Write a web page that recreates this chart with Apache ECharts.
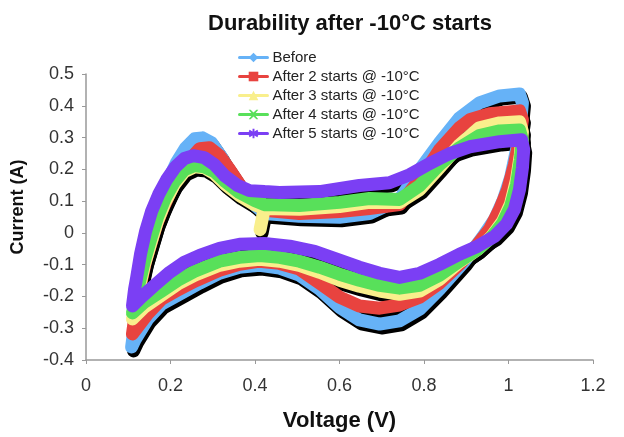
<!DOCTYPE html>
<html>
<head>
<meta charset="utf-8">
<script src="https://cdn.jsdelivr.net/npm/echarts@6/dist/echarts.min.js"></script>
<style>html,body{margin:0;padding:0;background:#fff}#c{width:624px;height:437px}</style>
</head>
<body>
<div id="c"></div>
<script>
// ---- data: [Voltage (V), Current (A)] ----
var seriesNames = ['Before', 'After 2 starts @ -10°C', 'After 3 starts @ -10°C', 'After 4 starts @ -10°C', 'After 5 starts @ -10°C'];
var seriesColors = ['#66b2f7', '#e8433f', '#f9ef8c', '#58e05a', '#7b3ff4'];

var before = [
 [0.422,0.061],[0.505,0.052],[0.600,0.049],[0.671,0.061],[0.742,0.105],[0.790,0.199],[0.837,0.284],[0.884,0.362],[0.931,0.409],[0.979,0.431],[1.026,0.437],
 [1.033,0.409],[1.028,0.340],[1.019,0.262],[1.005,0.174],[0.988,0.105],[0.967,0.042],[0.938,-0.014],[0.896,-0.089],[0.837,-0.177],[0.790,-0.240],[0.742,-0.277],[0.695,-0.287],[0.647,-0.274],[0.600,-0.234],[0.553,-0.177],[0.505,-0.133],[0.458,-0.111],[0.411,-0.102],[0.363,-0.108],[0.316,-0.127],[0.269,-0.158],[0.221,-0.193],[0.179,-0.224],[0.146,-0.271],[0.117,-0.334],[0.108,-0.359],
 [0.115,-0.287],[0.122,-0.208],[0.131,-0.130],[0.143,-0.052],[0.157,0.027],[0.174,0.096],[0.193,0.161],[0.214,0.221],[0.236,0.268],[0.257,0.296],[0.276,0.299],[0.297,0.284],[0.320,0.240],[0.347,0.177],[0.380,0.111],[0.422,0.061]
];
var after2 = [
 [0.422,0.071],[0.505,0.061],[0.600,0.067],[0.671,0.077],[0.742,0.089],[0.790,0.168],[0.837,0.262],[0.884,0.331],[0.908,0.356],[0.955,0.375],[1.026,0.384],
 [1.033,0.356],[1.026,0.293],[1.014,0.215],[0.998,0.136],[0.979,0.074],[0.955,0.011],[0.927,-0.036],[0.884,-0.099],[0.837,-0.158],[0.790,-0.202],[0.742,-0.227],[0.695,-0.237],[0.647,-0.230],[0.600,-0.202],[0.553,-0.158],[0.505,-0.114],[0.458,-0.096],[0.411,-0.089],[0.363,-0.099],[0.316,-0.118],[0.257,-0.152],[0.217,-0.180],[0.179,-0.208],[0.146,-0.255],[0.110,-0.318],
 [0.115,-0.271],[0.122,-0.208],[0.129,-0.161],[0.141,-0.089],[0.153,-0.036],[0.167,0.027],[0.181,0.074],[0.200,0.130],[0.221,0.183],[0.245,0.230],[0.269,0.265],[0.292,0.268],[0.316,0.243],[0.340,0.199],[0.368,0.143],[0.399,0.096],[0.422,0.071]
];
var after3 = [
 [0.412,0.010],[0.422,0.077],[0.505,0.074],[0.600,0.083],[0.671,0.096],[0.742,0.096],[0.790,0.136],[0.837,0.205],[0.884,0.277],[0.931,0.331],[0.979,0.346],[1.026,0.350],
 [1.033,0.318],[1.028,0.246],[1.019,0.168],[1.005,0.092],[0.986,0.036],[0.960,-0.011],[0.927,-0.052],[0.884,-0.092],[0.837,-0.146],[0.790,-0.183],[0.742,-0.193],[0.695,-0.183],[0.647,-0.168],[0.600,-0.149],[0.553,-0.124],[0.505,-0.102],[0.458,-0.089],[0.411,-0.083],[0.363,-0.089],[0.316,-0.102],[0.257,-0.133],[0.217,-0.161],[0.179,-0.196],[0.138,-0.234],[0.110,-0.271],
 [0.117,-0.224],[0.127,-0.168],[0.138,-0.102],[0.153,-0.033],[0.169,0.036],[0.188,0.099],[0.209,0.152],[0.233,0.193],[0.257,0.208],[0.280,0.205],[0.304,0.186],[0.330,0.152],[0.363,0.118],[0.399,0.089],[0.422,0.077]
];
var after4 = [
 [0.422,0.089],[0.505,0.086],[0.600,0.096],[0.671,0.108],[0.742,0.105],[0.790,0.149],[0.837,0.215],[0.884,0.268],[0.931,0.306],[0.979,0.321],[1.026,0.324],
 [1.033,0.293],[1.028,0.230],[1.019,0.152],[1.005,0.083],[0.986,0.030],[0.960,-0.014],[0.927,-0.052],[0.884,-0.089],[0.837,-0.133],[0.790,-0.165],[0.742,-0.174],[0.695,-0.165],[0.647,-0.149],[0.600,-0.130],[0.553,-0.108],[0.505,-0.089],[0.458,-0.077],[0.411,-0.071],[0.363,-0.077],[0.316,-0.089],[0.257,-0.121],[0.217,-0.149],[0.179,-0.183],[0.138,-0.218],[0.110,-0.252],
 [0.117,-0.208],[0.127,-0.152],[0.138,-0.089],[0.153,-0.020],[0.169,0.049],[0.188,0.111],[0.209,0.161],[0.233,0.199],[0.257,0.212],[0.280,0.208],[0.304,0.193],[0.330,0.161],[0.363,0.127],[0.399,0.102],[0.422,0.089]
];
var after5 = [
 [0.422,0.130],[0.458,0.127],[0.553,0.130],[0.647,0.149],[0.718,0.158],[0.766,0.183],[0.813,0.218],[0.837,0.234],[0.860,0.249],[0.908,0.271],[0.979,0.287],[1.031,0.293],
 [1.036,0.262],[1.033,0.205],[1.026,0.136],[1.014,0.074],[0.995,0.027],[0.967,-0.011],[0.927,-0.042],[0.884,-0.067],[0.837,-0.099],[0.790,-0.127],[0.742,-0.140],[0.695,-0.127],[0.647,-0.108],[0.600,-0.086],[0.541,-0.058],[0.482,-0.042],[0.422,-0.033],[0.363,-0.036],[0.316,-0.049],[0.269,-0.071],[0.233,-0.092],[0.198,-0.124],[0.162,-0.165],[0.131,-0.202],[0.110,-0.230],
 [0.115,-0.177],[0.120,-0.140],[0.129,-0.067],[0.141,0.005],[0.155,0.067],[0.172,0.121],[0.191,0.168],[0.212,0.208],[0.233,0.234],[0.254,0.243],[0.280,0.237],[0.304,0.215],[0.328,0.180],[0.359,0.149],[0.387,0.133],[0.422,0.130]
];
var allData = [before, after2, after3, after4, after5];

var crossPath = 'path://M0,0L2,0L5,3L8,0L10,0L6,5L10,10L8,10L5,7L2,10L0,10L4,5Z';
var starPath = 'path://M4,0L6,0L6,3L9,1L10,3L7,5L10,7L9,9L6,7L6,10L4,10L4,7L1,9L0,7L3,5L0,3L1,1L4,3Z';
var seriesSymbols = ['diamond', 'rect', 'triangle', crossPath, starPath];
var seriesSymbolSizes = [9, 11, 9, 10, 10];

// ---- chart ----
var FONT = 'Liberation Sans, Arial, sans-serif';
var chart = echarts.init(document.getElementById('c'), null, {renderer: 'canvas'});
var W = 13;
var series = [];
allData.forEach(function (d, i) {
  series.push({
    name: 'shadow' + i, type: 'line', xAxisIndex: 1, yAxisIndex: 1, data: d,
    showSymbol: false, symbol: 'none', silent: true, z: 1, animation: false,
    lineStyle: {color: '#000', width: W, cap: 'round', join: 'round'}
  });
});
allData.forEach(function (d, i) {
  series.push({
    name: seriesNames[i], type: 'line', xAxisIndex: 0, yAxisIndex: 0, data: d,
    symbol: seriesSymbols[i], symbolSize: seriesSymbolSizes[i], showSymbol: false,
    z: 2, animation: false, color: seriesColors[i],
    lineStyle: {color: seriesColors[i], width: W, cap: 'round', join: 'round'},
    itemStyle: {color: seriesColors[i]}
  });
});

chart.setOption({
  backgroundColor: '#fff',
  animation: false,
  title: {
    text: 'Durability after -10°C starts', left: 203, top: 8,
    textStyle: {fontFamily: FONT, fontSize: 22, fontWeight: 'bold', color: '#111'}
  },
  legend: {
    data: seriesNames, orient: 'vertical', left: 233, top: 45,
    itemWidth: 28, itemHeight: 12, itemGap: 4,
    lineStyle: {width: 3},
    textStyle: {fontFamily: FONT, fontSize: 15, color: '#222', lineHeight: 15}
  },
  graphic: [{
    type: 'text', x: 18, y: 207, rotation: Math.PI / 2,
    style: {text: 'Current (A)', font: 'bold 18px ' + FONT, fill: '#111', textAlign: 'center', textVerticalAlign: 'middle'}
  }],
  grid: [
    {left: 86, right: 31, top: 74, bottom: 76},
    {left: 88, right: 29, top: 77, bottom: 73, show: false}
  ],
  xAxis: [
    {
      type: 'value', gridIndex: 0, min: 0, max: 1.2, interval: 0.2,
      name: 'Voltage (V)', nameLocation: 'middle', nameGap: 50,
      nameTextStyle: {fontFamily: FONT, fontSize: 22, fontWeight: 'bold', color: '#111'},
      axisLine: {onZero: false, lineStyle: {color: '#999', width: 1.5}},
      axisTick: {show: true, length: 4, lineStyle: {color: '#999'}},
      splitLine: {show: false},
      axisLabel: {fontFamily: FONT, fontSize: 18, color: '#333', margin: 17,
        formatter: function (v) { return String(Math.round(v * 10) / 10); }}
    },
    {type: 'value', gridIndex: 1, min: 0, max: 1.2, show: false}
  ],
  yAxis: [
    {
      type: 'value', gridIndex: 0, min: -0.4, max: 0.5, interval: 0.1,
      axisLine: {show: true, onZero: false, lineStyle: {color: '#999', width: 1.5}},
      axisTick: {show: true, length: 4, lineStyle: {color: '#999'}},
      splitLine: {show: false},
      axisLabel: {fontFamily: FONT, fontSize: 18, color: '#333', margin: 12,
        formatter: function (v) { return String(Math.round(v * 10) / 10); }}
    },
    {type: 'value', gridIndex: 1, min: -0.4, max: 0.5, show: false}
  ],
  series: series
});
</script>
</body>
</html>
